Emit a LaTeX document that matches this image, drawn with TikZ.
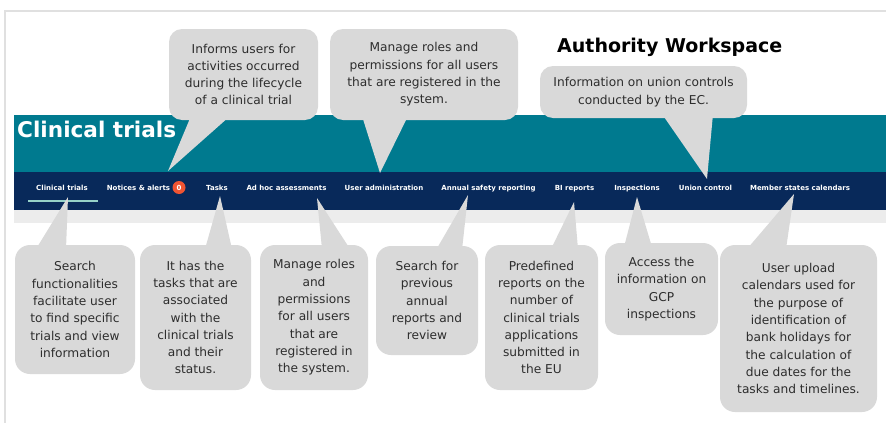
\documentclass[tikz,border=0pt]{standalone}
\usepackage{fontspec}
\setmainfont{DejaVu Sans}
\definecolor{tealband}{RGB}{0,122,143}
\definecolor{navyband}{RGB}{8,41,90}
\definecolor{stripgray}{RGB}{236,236,236}
\definecolor{framegray}{RGB}{224,224,224}
\definecolor{cgray}{RGB}{217,217,217}
\definecolor{ctext}{RGB}{45,45,45}
\definecolor{badge}{RGB}{240,84,50}
\definecolor{uline}{RGB}{150,210,200}
\begin{document}
\begin{tikzpicture}[x=1pt,y=-1pt,
  callout/.style={fill=cgray, rounded corners=13pt, inner sep=0pt, align=center, text=ctext,
    font=\fontsize{12.2}{17.3}\selectfont},
  navitem/.style={text=white, font=\bfseries\fontsize{7}{8}\selectfont, anchor=base, inner sep=0pt},
  tail/.style={fill=cgray}]
\useasboundingbox (0,0) rectangle (886,423);
% frame
\draw[framegray, line width=2pt] (5,423) -- (5,11) -- (886,11);
% bands
\fill[tealband] (14,115) rectangle (886,172);
\fill[navyband] (14,172) rectangle (886,210);
\fill[stripgray] (14,210) rectangle (886,223);
% titles
\node[anchor=base west, inner sep=0pt, text=white, font=\bfseries\fontsize{21.6}{24}\selectfont] (title) at (17,137) {Clinical trials};
\node[anchor=base west, inner sep=0pt, text=black, font=\bfseries\fontsize{19}{21}\selectfont] (aw) at (557,52) {Authority Workspace};
% nav items
\node[navitem] (n1) at (62,190) {Clinical trials};
\node[navitem] (n2) at (138.5,190) {Notices \& alerts};
\node[circle, fill=badge, minimum size=13pt, inner sep=0pt, text=white, font=\bfseries\fontsize{7}{8}\selectfont] (bdg) at (179,187.5) {0};
\node[navitem] (n3) at (217,190) {Tasks};
\node[navitem] (n4) at (286.5,190) {Ad hoc assessments};
\node[navitem] (n5) at (384,190) {User administration};
\node[navitem] (n6) at (488.5,190) {Annual safety reporting};
\node[navitem] (n7) at (574.5,190) {BI reports};
\node[navitem] (n8) at (637,190) {Inspections};
\node[navitem] (n9) at (705.5,190) {Union control};
\node[navitem] (n10) at (800,190) {Member states calendars};
\draw[uline, line width=2.5pt] (28,201) -- (98,201);
% tail tips
\coordinate (t1) at (168,171);
\coordinate (t2) at (380,173);
\coordinate (t3) at (707,179);
\coordinate (tA) at (68,197);
\coordinate (tB) at (220,196);
\coordinate (tC) at (317,198);
\coordinate (tD) at (468,195);
\coordinate (tE) at (574,202);
\coordinate (tF) at (637,197);
\coordinate (tG) at (794,194);
% tails
\fill[tail] (191,116) -- (t1) -- (230,116) -- cycle;
\fill[tail] (362,116) -- (t2) -- (408,116) -- cycle;
\fill[tail] (662,114) -- (t3) -- (713,114) -- cycle;
\fill[tail] (36,249) -- (tA) -- (66,249) -- cycle;
\fill[tail] (205,249) -- (tB) -- (232,249) -- cycle;
\fill[tail] (322,249) -- (tC) -- (350,249) -- cycle;
\fill[tail] (436,250) -- (tD) -- (462,250) -- cycle;
\fill[tail] (551,249) -- (tE) -- (578,249) -- cycle;
\fill[tail] (624,247) -- (tF) -- (652,247) -- cycle;
\fill[tail] (747,249) -- (tG) -- (786,249) -- cycle;
% top callouts
\node[callout, minimum width=149pt, minimum height=91pt] (c1) at (243.5,74.5)
  {Informs users for\\activities occurred\\during the lifecycle\\of a clinical trial};
\node[callout, minimum width=188pt, minimum height=91pt] (c2) at (424,74.5)
  {Manage roles and\\permissions for all users\\that are registered in the\\system.};
\node[callout, minimum width=207pt, minimum height=52pt] (c3) at (643.5,92)
  {Information on union controls\\conducted by the EC.};
% bottom callouts
\node[callout, rounded corners=15pt, minimum width=120pt, minimum height=129pt] (bA) at (75,309.5)
  {Search\\functionalities\\facilitate user\\to find specific\\trials and view\\information};
\node[callout, rounded corners=15pt, minimum width=111pt, minimum height=145pt] (bB) at (195.5,317.5)
  {It has the\\tasks that are\\associated\\with the\\clinical trials\\and their\\status.};
\node[callout, rounded corners=15pt, minimum width=108pt, minimum height=145pt] (bC) at (314,317.5)
  {Manage roles\\and\\permissions\\for all users\\that are\\registered in\\the system.};
\node[callout, rounded corners=15pt, minimum width=102pt, minimum height=109pt] (bD) at (427,300.5)
  {Search for\\previous\\annual\\reports and\\review};
\node[callout, rounded corners=15pt, minimum width=113pt, minimum height=145pt] (bE) at (541.5,317.5)
  {Predefined\\reports on the\\number of\\clinical trials\\applications\\submitted in\\the EU};
\node[callout, rounded corners=15pt, minimum width=113pt, minimum height=92pt] (bF) at (661.5,289)
  {Access the\\information on\\GCP\\inspections};
\node[callout, rounded corners=15pt, minimum width=157pt, minimum height=167pt] (bG) at (798.5,328.5)
  {User upload\\calendars used for\\the purpose of\\identification of\\bank holidays for\\the calculation of\\due dates for the\\tasks and timelines.};
\end{tikzpicture}
\end{document}
